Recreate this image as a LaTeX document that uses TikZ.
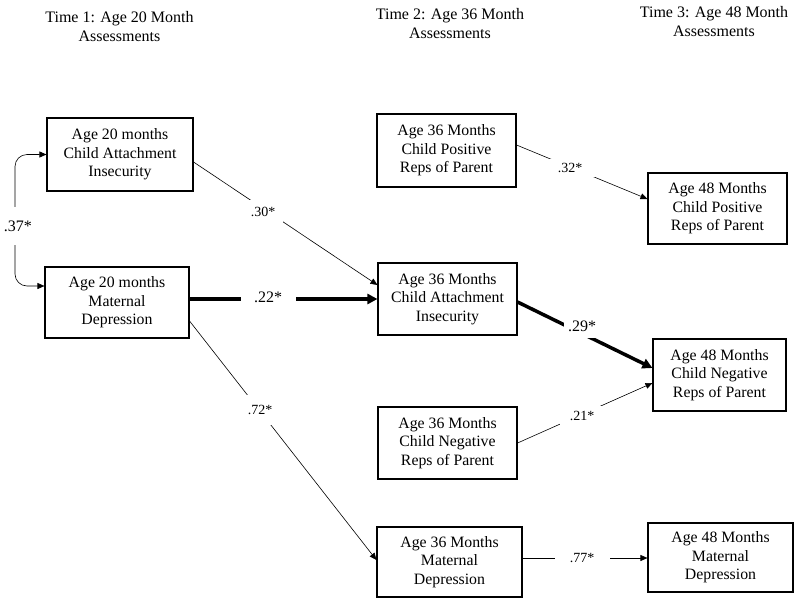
\documentclass[tikz,border=0pt]{standalone}
\usepackage{fontspec}
\setmainfont{Liberation Serif}
\usetikzlibrary{arrows.meta}
\begin{document}
\begin{tikzpicture}[x=1pt,y=-1pt,
  box/.style={draw, line width=1.1pt, inner sep=0pt, align=center, font=\fontsize{15.8}{18.5}\selectfont},
  head/.style={align=center, inner sep=0pt, font=\fontsize{16}{19}\selectfont},
  thinarrow/.style={line width=0.6pt, -{Triangle[length=7pt,width=6pt]}},
  thickarrow/.style={line width=3.5pt, -{Triangle[length=10pt,width=10pt]}},
  sm/.style={fill=white, inner sep=0pt, font=\fontsize{14}{15}\selectfont},
  big/.style={fill=white, inner sep=0pt, font=\fontsize{16}{17}\selectfont}]

\useasboundingbox (0,0) rectangle (800,603);

% headings
\node[head] (h1) at (119.5,26.5) {Time 1: Age 20 Month\\Assessments};
\node[head] (h2) at (450,24) {Time 2: Age 36 Month\\Assessments};
\node[head] (h3) at (714,22) {Time 3: Age 48 Month\\Assessments};

% boxes
\node[box, minimum width=146pt, minimum height=73pt] (A) at (120,154.5) {Age 20 months\\Child Attachment\\Insecurity};
\node[box, minimum width=144pt, minimum height=71pt] (B) at (117,302.5) {Age 20 months\\Maternal\\Depression};
\node[box, minimum width=139pt, minimum height=73pt] (C) at (446.5,150.5) {Age 36 Months\\Child Positive\\Reps of Parent};
\node[box, minimum width=139pt, minimum height=72pt] (D) at (447.5,299) {Age 36 Months\\Child Attachment\\Insecurity};
\node[box, minimum width=139pt, minimum height=72pt] (E) at (447.5,443) {Age 36 Months\\Child Negative\\Reps of Parent};
\node[box, minimum width=145pt, minimum height=70pt] (F) at (449.5,562) {Age 36 Months\\Maternal\\Depression};
\node[box, minimum width=139pt, minimum height=71pt] (G) at (717.5,208.5) {Age 48 Months\\Child Positive\\Reps of Parent};
\node[box, minimum width=133pt, minimum height=72pt] (H) at (719.5,375) {Age 48 Months\\Child Negative\\Reps of Parent};
\node[box, minimum width=145pt, minimum height=69pt] (I) at (720.5,557.5) {Age 48 Months\\Maternal\\Depression};

% connectors
\draw[line width=0.6pt, {Triangle[length=7pt,width=6pt]}-{Triangle[length=7pt,width=6pt]}, rounded corners=12pt]
  (A.west) -| (15,226) |- ([yshift=16.5pt]B.west);
\draw[thinarrow] ([yshift=-7.5pt]A.east) -- ([yshift=14pt]D.west);
\draw[thickarrow] ([yshift=3.5pt]B.east) -- (D.west);
\draw[thinarrow] ([yshift=-18.5pt]B.east) -- ([yshift=2pt]F.west);
\draw[thinarrow] ([yshift=5.5pt]C.east) -- ([yshift=9.5pt]G.west);
\draw[thickarrow] ([yshift=-3pt]D.east) -- ([yshift=7pt]H.west);
\draw[thinarrow] (E.east) -- ([yshift=-8pt]H.west);
\draw[thinarrow] ([yshift=4pt]F.east) -- ([yshift=-0.5pt]I.west);

% labels
\node[big, minimum width=28pt, minimum height=38pt] (l37) at (18,226) {.37*};
\node[sm, minimum width=40pt, minimum height=24pt] (l30) at (263,212) {.30*};
\node[big, minimum width=55pt, minimum height=14pt] (l22) at (268,297) {.22*};
\node[sm, minimum width=28pt, minimum height=30pt] (l72) at (260,410) {.72*};
\node[sm, minimum width=50pt, minimum height=18pt] (l32) at (570,168) {.32*};
\node[big, minimum width=36pt, minimum height=24pt] (l29) at (582,326) {.29*};
\node[sm, minimum width=44pt, minimum height=20pt] (l21) at (582,416) {.21*};
\node[sm, minimum width=55pt, minimum height=14pt] (l77) at (582,558) {.77*};
\end{tikzpicture}
\end{document}
